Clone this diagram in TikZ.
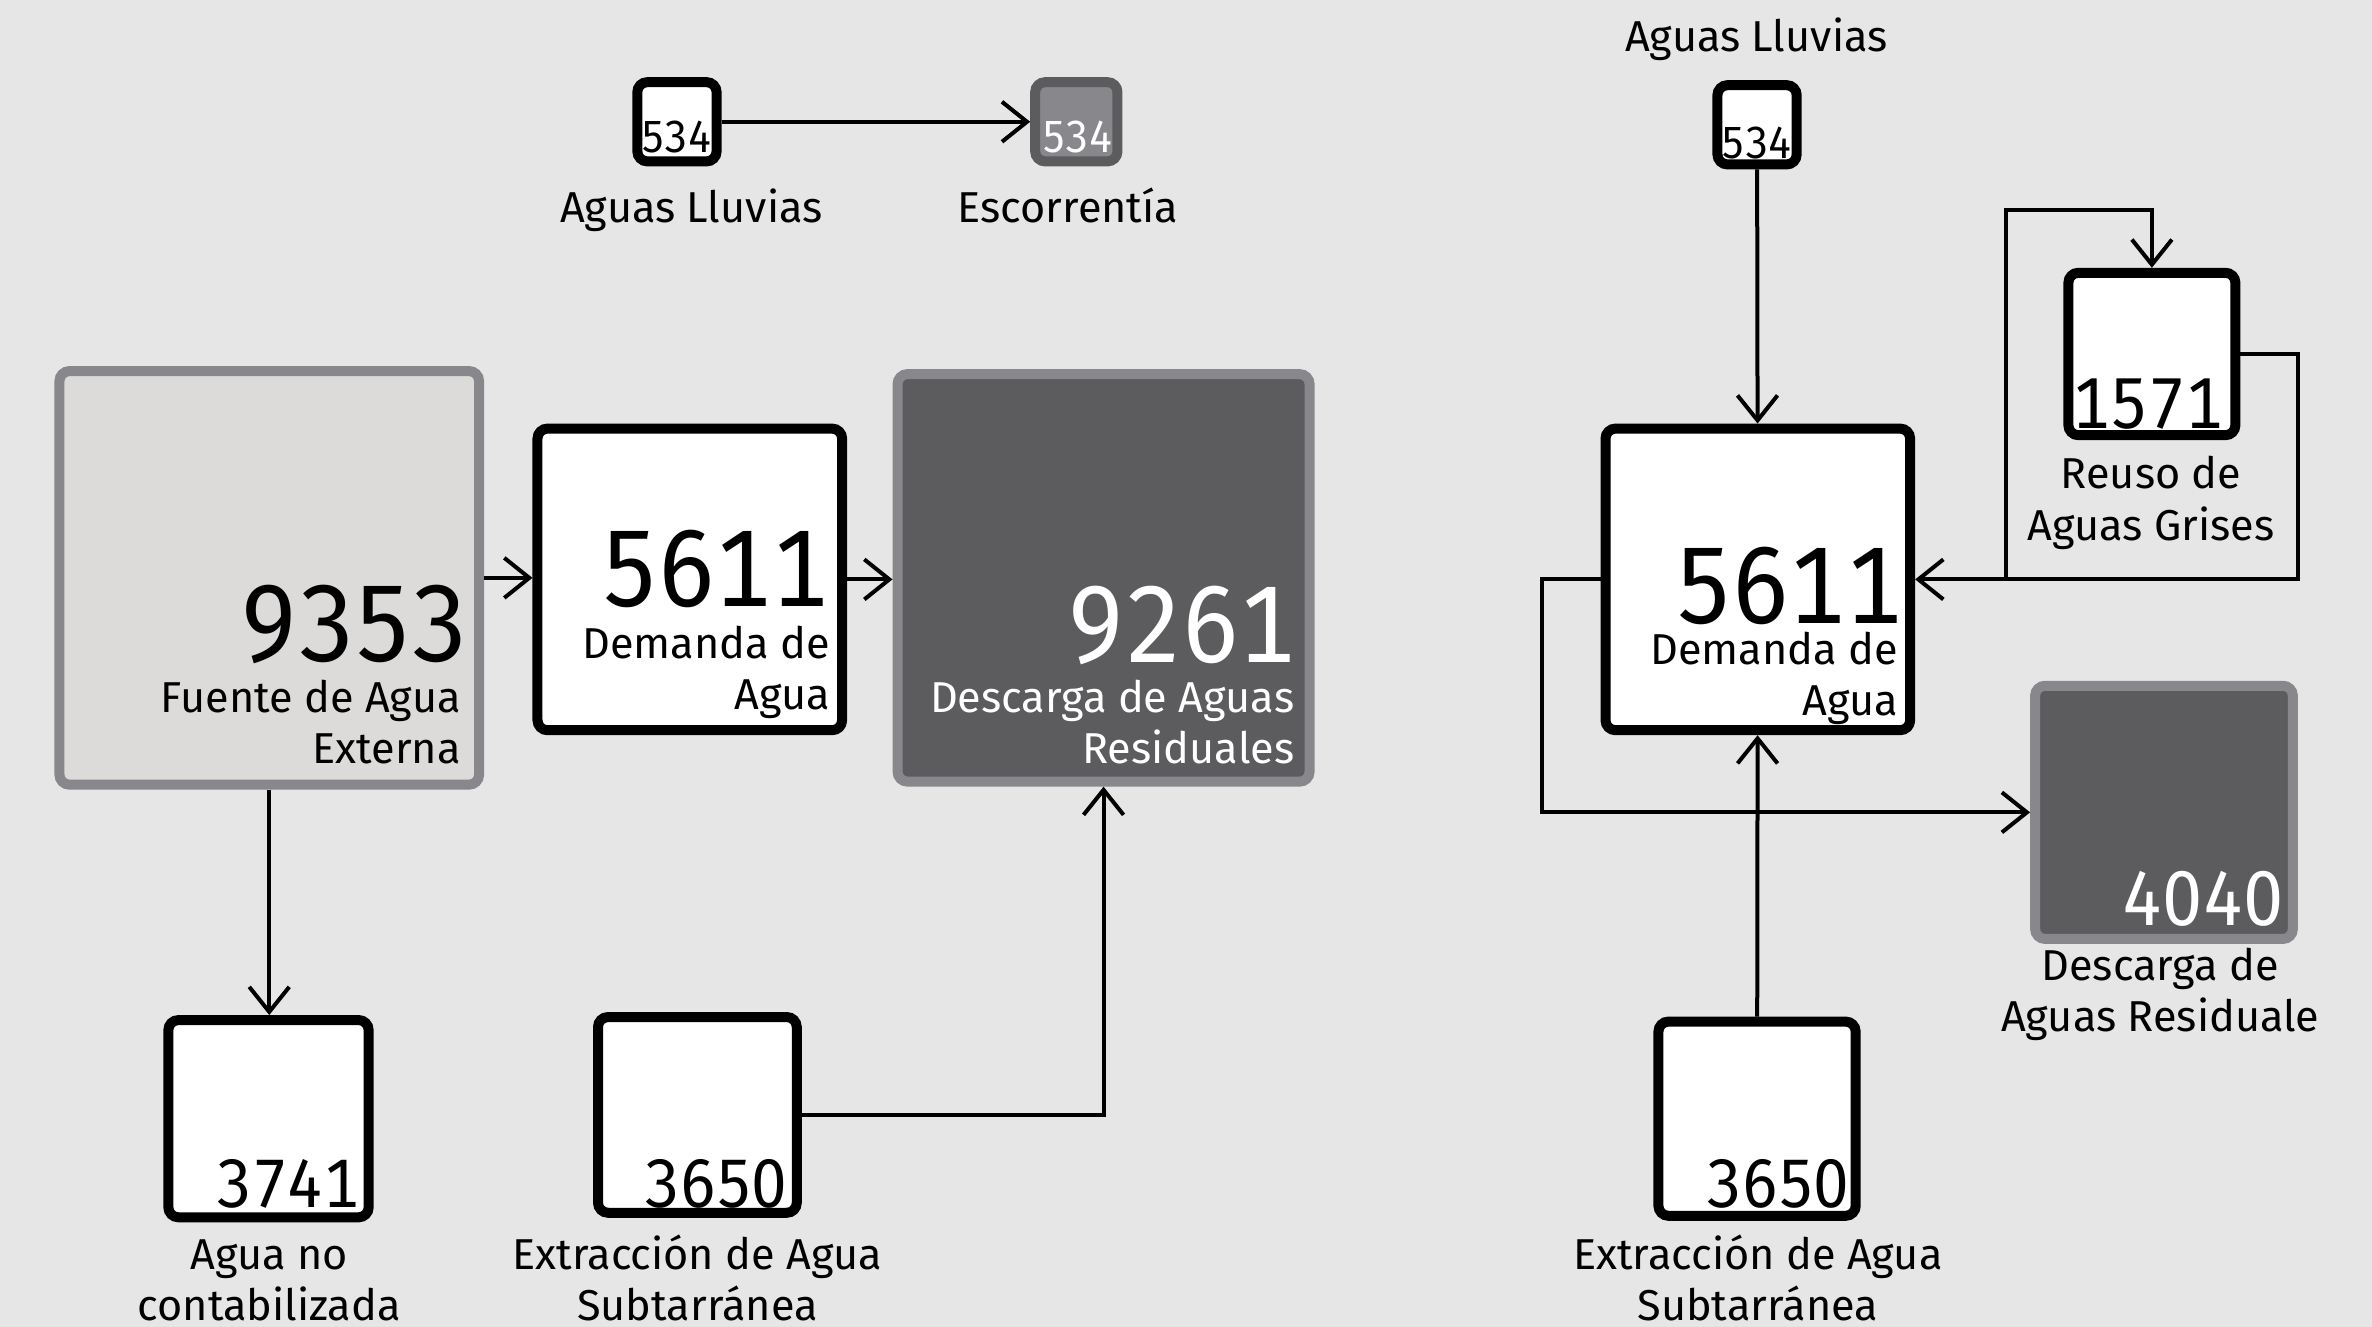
\documentclass[tikz,border=0pt]{standalone}
\usepackage{fontspec}
\setmainfont{Fira Sans}[Numbers={Lining,Monospaced}]
\newfontfamily\numfam{Fira Sans}[Numbers={Lining,Monospaced}, FakeStretch=0.93]
\usepackage{tikz}
\usetikzlibrary{arrows.meta, positioning, calc}
\definecolor{canvas}{HTML}{E6E6E6}
\definecolor{paleg}{HTML}{DCDBDA}
\definecolor{midg}{HTML}{88878B}
\definecolor{darkg}{HTML}{5C5C5E}
\newcommand{\px}{0.15128mm}

\begin{document}
\begin{tikzpicture}[x=\px, y=-\px, >={Straight Barb[length=2.5mm,width=4mm]},
    whitebox/.style={draw=black, fill=white, line width=1mm, rounded corners=1mm, inner sep=0pt},
    palebox/.style={draw=midg, fill=paleg, line width=1mm, rounded corners=1mm, inner sep=0pt},
    darkbox/.style={draw=midg, fill=darkg, line width=1mm, rounded corners=1mm, inner sep=0pt},
    runbox/.style={draw=darkg, fill=midg, line width=1mm, rounded corners=1mm, inner sep=0pt},
    boxsize/.style 2 args={minimum width={#1*\px-1mm}, minimum height={#2*\px-1mm}},
    flow/.style={->, line width=0.4mm, black},
    lbl/.style={inner sep=0pt, anchor=base, align=center, font=\fontsize{12.3pt}{14.6pt}\selectfont},
    inlbl/.style={inner sep=0pt, anchor=base east, align=right, font=\fontsize{12.3pt}{14.6pt}\selectfont},
    numbig/.style={inner sep=0pt, anchor=base east, font=\numfam\fontsize{31pt}{31pt}\selectfont},
    nummid/.style={inner sep=0pt, anchor=base east, font=\numfam\fontsize{22pt}{22pt}\selectfont},
    numsml/.style={inner sep=0pt, anchor=base east, font=\numfam\fontsize{19.5pt}{19.5pt}\selectfont},
    numtiny/.style={inner sep=0pt, anchor=base east, font=\numfam\fontsize{12.8pt}{12.8pt}\selectfont}]

    \fill[canvas] (0,0) rectangle (1568,877);
    \useasboundingbox (0,0) rectangle (1568,877);

    % Nodes (left scheme)
    \node [whitebox, boxsize={59}{59}] (rainL) at (447.5,80.5) {};
    \node [runbox, boxsize={61}{59}] (runoff) at (711.5,80.5) {};
    \node [palebox, boxsize={284}{280}] (fuente) at (178,382) {};
    \node [whitebox, boxsize={208}{206}] (demL) at (456,383) {};
    \node [darkbox, boxsize={279}{276}] (descL) at (729.5,382) {};
    \node [whitebox, boxsize={139}{137}] (nrw) at (177.5,739.5) {};
    \node [whitebox, boxsize={138}{136}] (gwL) at (461,737) {};

    \node [numtiny] (rainLnum) at (471,101) {534};
    \node [numtiny, text=white] (runoffnum) at (736,101) {534};
    \node [lbl] (rainLlbl) at (457,147) {Aguas Lluvias};
    \node [lbl] (runofflbl) at (706,147) {Escorrentía};
    \node [numbig] (fuentenum) at (310,437) {9353};
    \node [inlbl] (fuentelbl) at (305,505) {Fuente de Agua\\Externa};
    \node [numbig] (demLnum) at (548,401) {5611};
    \node [inlbl] (demLlbl) at (549,469) {Demanda de\\Agua};
    \node [numbig, text=white] (descLnum) at (857,438) {9261};
    \node [inlbl, text=white] (descLlbl) at (856,505) {Descarga de Aguas\\Residuales};
    \node [numsml] (nrwnum) at (238,798) {3741};
    \node [lbl] (nrwlbl) at (178,873) {Agua no\\contabilizada};
    \node [numsml] (gwLnum) at (521,798) {3650};
    \node [lbl] (gwLlbl) at (461,873) {Extracción de Agua\\Subtarránea};

    % Nodes (right scheme)
    \node [whitebox, boxsize={59}{59}] (rainR) at (1161.5,82.5) {};
    \node [whitebox, boxsize={208}{206}] (demR) at (1162,383) {};
    \node [whitebox, boxsize={117}{114}] (reuse) at (1422.5,234) {};
    \node [darkbox, boxsize={177}{174}] (descR) at (1430.5,537) {};
    \node [whitebox, boxsize={137}{135}] (gwR) at (1161.5,739.5) {};

    \node [lbl] (rainRlbl) at (1161,34) {Aguas Lluvias};
    \node [numtiny] (rainRnum) at (1185,105) {534};
    \node [numbig] (demRnum) at (1258,412) {5611};
    \node [inlbl] (demRlbl) at (1255,473) {Demanda de\\Agua};
    \node [numsml, font=\numfam\fontsize{20.5pt}{20.5pt}\selectfont] (reusenum) at (1470,283) {1571};
    \node [lbl] (reuselbl) at (1422,357) {Reuso de\\Aguas Grises};
    \node [nummid, text=white] (descRnum) at (1510,612) {4040};
    \node [lbl] (descRlbl) at (1428,682) {Descarga de\\Aguas Residuale};
    \node [numsml] (gwRnum) at (1223,798) {3650};
    \node [lbl] (gwRlbl) at (1162,873) {Extracción de Agua\\Subtarránea};

    \coordinate (split) at (1326,382);

    % Paths
    \draw[flow] (rainL) -- (runoff);
    \draw[flow] (fuente.east) -- (fuente.east -| demL.west);
    \draw[flow] (demL.east) -- (demL.east -| descL.west);
    \draw[flow] (fuente.south) -- (fuente.south |- nrw.north);
    \draw[flow] (gwL.east) -| (descL.south);

    \draw[flow] (rainR) -- (demR);
    \draw[flow] (gwR) -- (demR);
    \draw[flow] (reuse.east) -- ++(38,0) |- (demR.east);
    \draw[flow] (split) |- ([yshift=38*\px]reuse.north) -- (reuse.north);
    \draw[flow] (demR.west) -- ++(-39,0) |- (descR.west);
\end{tikzpicture}
\end{document}
